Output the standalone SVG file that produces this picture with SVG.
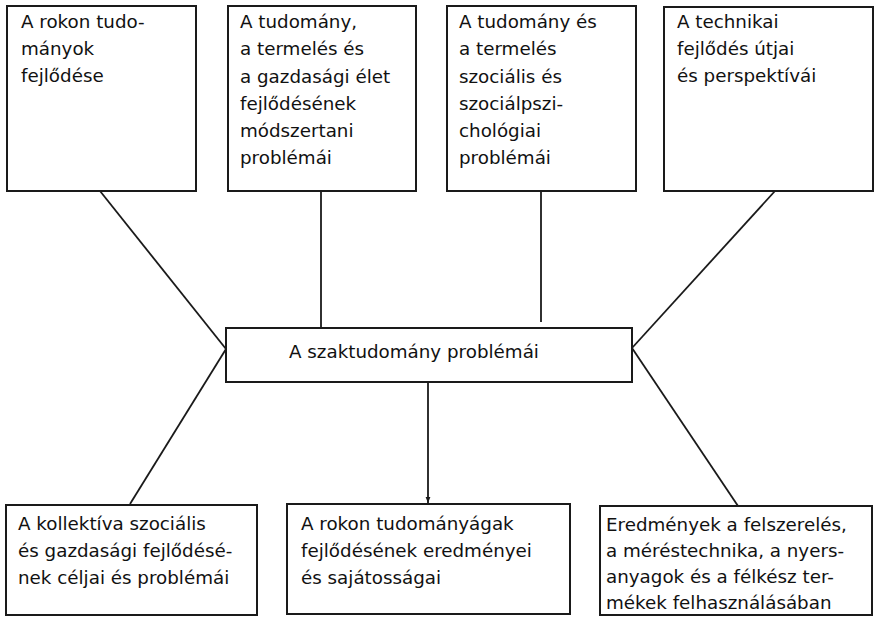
<svg xmlns="http://www.w3.org/2000/svg" width="875" height="620" viewBox="0 0 875 620">
<defs>
<style>
rect.box{fill:#fff;stroke:#1a1a1a;stroke-width:2}
text{font-family:"DejaVu Sans","Liberation Sans",sans-serif;font-size:18.3px;fill:#111}
.conn line{stroke:#1a1a1a;stroke-width:1.8}
</style>
<marker id="arr" viewBox="0 0 10 10" refX="10" refY="5" markerWidth="6" markerHeight="6" orient="auto" markerUnits="userSpaceOnUse">
<path d="M0,1 L10,5 L0,9 z" fill="#1a1a1a"/>
</marker>
</defs>
<rect width="875" height="620" fill="#fff"/>
<g id="connectors" class="conn">
<line x1="100" y1="191" x2="226" y2="349"/>
<line x1="321" y1="191" x2="321" y2="328"/>
<line x1="541" y1="191" x2="541" y2="322"/>
<line x1="775" y1="191" x2="632" y2="348"/>
<line x1="226" y1="349" x2="130" y2="504"/>
<line x1="428" y1="382" x2="428" y2="503" marker-end="url(#arr)"/>
<line x1="632" y1="348" x2="738" y2="506"/>
</g>
<g id="n1">
<rect class="box" x="7" y="6" width="189" height="185"/>
<text x="21" y="28">A rokon tudo-</text>
<text x="21" y="55">mányok</text>
<text x="21" y="82">fejlődése</text>
</g>
<g id="n2">
<rect class="box" x="228" y="6" width="188" height="185"/>
<text x="240" y="28">A tudomány,</text>
<text x="240" y="55">a termelés és</text>
<text x="240" y="83">a gazdasági élet</text>
<text x="240" y="110">fejlődésének</text>
<text x="240" y="137">módszertani</text>
<text x="240" y="164">problémái</text>
</g>
<g id="n3">
<rect class="box" x="447" y="6" width="189" height="185"/>
<text x="459" y="28">A tudomány és</text>
<text x="459" y="55">a termelés</text>
<text x="459" y="83">szociális és</text>
<text x="459" y="110">szociálpszi-</text>
<text x="459" y="137">chológiai</text>
<text x="459" y="164">problémái</text>
</g>
<g id="n4">
<rect class="box" x="664" y="7" width="209" height="184"/>
<text x="677" y="28">A technikai</text>
<text x="677" y="55">fejlődés útjai</text>
<text x="677" y="82">és perspektívái</text>
</g>
<g id="center">
<rect class="box" x="226" y="328" width="406" height="54"/>
<text x="289" y="358">A szaktudomány problémái</text>
</g>
<g id="n5">
<rect class="box" x="6" y="505" width="251" height="110"/>
<text x="18" y="530">A kollektíva szociális</text>
<text x="18" y="557">és gazdasági fejlődésé-</text>
<text x="18" y="584">nek céljai és problémái</text>
</g>
<g id="n6">
<rect class="box" x="287" y="504" width="283" height="110"/>
<text x="301" y="530">A rokon tudományágak</text>
<text x="301" y="557">fejlődésének eredményei</text>
<text x="301" y="584">és sajátosságai</text>
</g>
<g id="n7">
<rect class="box" x="600" y="506" width="272" height="109"/>
<text x="606" y="531">Eredmények a felszerelés,</text>
<text x="606" y="557">a méréstechnika, a nyers-</text>
<text x="606" y="583">anyagok és a félkész ter-</text>
<text x="606" y="609">mékek felhasználásában</text>
</g>
</svg>
